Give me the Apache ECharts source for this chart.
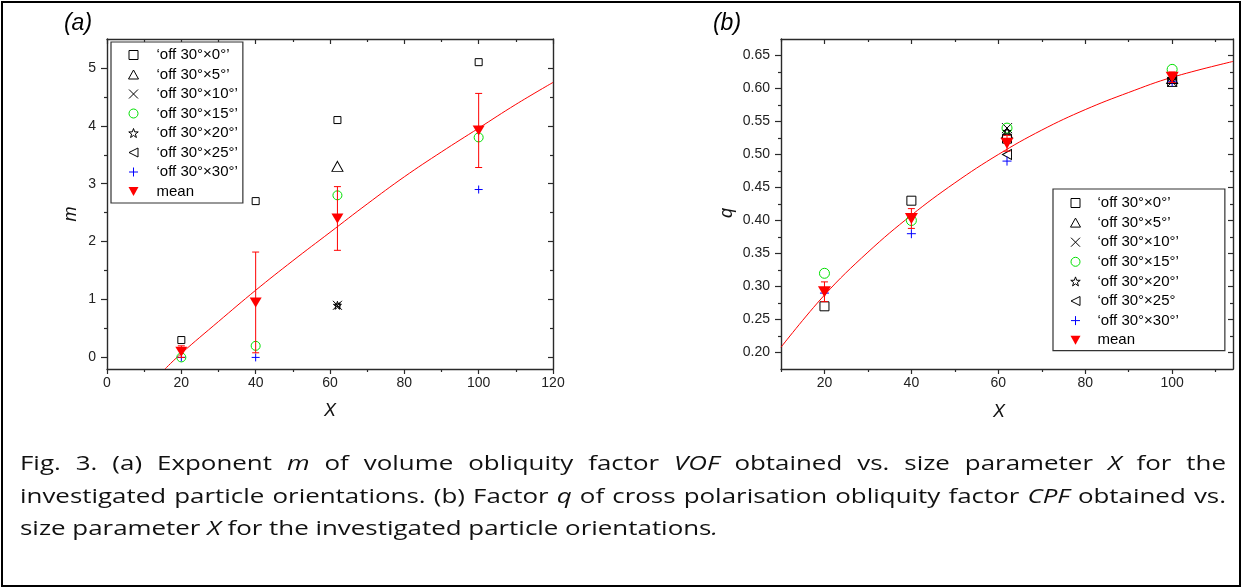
<!DOCTYPE html>
<html>
<head>
<meta charset="utf-8">
<script src="https://cdn.jsdelivr.net/npm/echarts@6/dist/echarts.min.js"></script>
<style>
  html, body { margin:0; padding:0; background:#fff; }
  #wrap { position:relative; width:1244px; height:588px; overflow:hidden; }
  #chart { position:absolute; left:0; top:0; width:1244px; height:588px; }
  #frame { position:absolute; left:1px; top:1px; width:1240px; height:586px; border:2px solid #000; box-sizing:border-box; pointer-events:none; }
  .ln { position:absolute; left:20px; white-space:nowrap; font-family:"Open Sans","Liberation Sans",sans-serif; font-size:20.5px; color:#111; line-height:30px; transform-origin:0 0; }
  .ln i { font-style:italic; }
</style>
</head>
<body>
<div id="wrap">
  <div id="chart"></div>
  <div id="frame"></div>
  <div class="ln" id="l1" style="top:447px">Fig. 3. (a) Exponent <i>m</i> of volume obliquity factor <i>VOF</i> obtained vs. size parameter <i>X</i> for the</div>
  <div class="ln" id="l2" style="top:480px">investigated particle orientations. (b) Factor <i>q</i> of cross polarisation obliquity factor <i>CPF</i> obtained vs.</div>
  <div class="ln" id="l3" style="top:512px">size parameter <i>X</i> for the investigated particle orientations<i>.</i></div>
</div>
<script>
// ---------------- DATA ----------------
const xPts = [20, 40, 62, 100];

// (a) exponent m  (null = marker not visible in the figure)
const mOff0  = [0.3, 2.7, 4.1, 5.1];
const mOff5  = [null, null, 3.3, null];
const mOff10 = [null, null, 0.9, null];
const mOff15 = [0.0, 0.2, 2.8, 3.8];
const mOff20 = [null, null, 0.9, null];
const mOff25 = [null, null, 0.9, null];
const mOff30 = [0.0, 0.0, null, 2.9];
const mMean  = [0.1, 0.95, 2.4, 3.92];
const mErr   = [0.1, 0.87, 0.55, 0.64];
const mFitX  = [15.6, 20, 30, 40, 50, 60, 70, 80, 90, 100, 110, 120];
const mFitY  = [-0.2, 0.07, 0.62, 1.16, 1.67, 2.16, 2.65, 3.12, 3.55, 3.96, 4.37, 4.75];

// (b) factor q
const qOff0  = [0.27, 0.43, 0.524, 0.61];
const qOff5  = [null, null, 0.532, 0.615];
const qOff10 = [null, null, 0.54, 0.61];
const qOff15 = [0.32, 0.40, 0.54, 0.629];
const qOff20 = [null, null, 0.535, 0.615];
const qOff25 = [null, null, 0.50, 0.615];
const qOff30 = [0.29, 0.38, 0.49, 0.61];
const qMean  = [0.292, 0.403, 0.517, 0.617];
const qErr   = [0.015, 0.015, 0.012, 0.008];
const qFitX  = [10, 20, 30, 40, 50, 60, 70, 80, 90, 100, 114];
const qFitY  = [0.208, 0.287, 0.352, 0.408, 0.457, 0.500, 0.537, 0.568, 0.594, 0.617, 0.641];

// tick labels
const aXTicks = [0, 20, 40, 60, 80, 100, 120];
const aXMinor = [10, 30, 50, 70, 90, 110];
const aYTicks = [0, 1, 2, 3, 4, 5];
const aYMinor = [0.5, 1.5, 2.5, 3.5, 4.5];
const bXTicks = [20, 40, 60, 80, 100];
const bXMinor = [10, 30, 50, 70, 90, 110];
const bYTicks = [0.20, 0.25, 0.30, 0.35, 0.40, 0.45, 0.50, 0.55, 0.60, 0.65];
const bYMinor = [0.225, 0.275, 0.325, 0.375, 0.425, 0.475, 0.525, 0.575, 0.625];

const namesA = ['‘off 30°×0°’', '‘off 30°×5°’', '‘off 30°×10°’', '‘off 30°×15°’', '‘off 30°×20°’', '‘off 30°×25°’', '‘off 30°×30°’', 'mean'];
const namesB = ['‘off 30°×0°’', '‘off 30°×5°’', '‘off 30°×10°’', '‘off 30°×15°’', '‘off 30°×20°’', '‘off 30°×25°', '‘off 30°×30°’', 'mean'];

// ---------------- STYLE ----------------
const FONT = '"Liberation Sans", Arial, sans-serif';
const AX = '#2a2a2a';
const P_SQR   = 'path://M0,0L10,0L10,10L0,10Z';
const P_CROSS = 'path://M0,0L10,10M10,0L0,10';
const P_PLUS  = 'path://M5,0L5,10M0,5L10,5';
const P_STAR  = 'path://M5,0L6.18,3.38L9.76,3.45L6.9,5.62L7.94,9.05L5,7L2.06,9.05L3.1,5.62L0.24,3.45L3.82,3.38Z';
const P_LTRI  = 'path://M10,0L0,5L10,10Z';
const P_DTRI  = 'path://M0,0L10,0L5,9Z';
const P_TRI   = 'path://M5,0L10,9L0,9Z';
const CLEAR = 'rgba(0,0,0,0)';

const markStyles = [
  {symbol:P_SQR,    color:CLEAR,  border:'#000'},
  {symbol:P_TRI,    color:CLEAR,  border:'#000'},
  {symbol:P_CROSS,  color:CLEAR,  border:'#000'},
  {symbol:'circle', color:CLEAR,  border:'#00e000'},
  {symbol:P_STAR,   color:CLEAR,  border:'#000'},
  {symbol:P_LTRI,   color:CLEAR,  border:'#000'},
  {symbol:P_PLUS,   color:CLEAR,  border:'#0000ff'},
  {symbol:P_DTRI,   color:'#ff0000', border:'#ff0000'}
];
const sizesA = [[7,7],[11,10],[9,9],[9,9],[8,8],[5,5],[8,8],[12,10]];
const sizesB = [[9,9],[11,10],[10,10],[10,10],[8,8],[9,10],[9,9],[13,11]];

function axisGroup(dim, gi, min, max, majors, minors, labelFmt) {
  const isX = dim === 'x';
  const posMain = isX ? 'bottom' : 'left';
  const posMirror = isX ? 'top' : 'right';
  const line = {show:true, onZero:false, lineStyle:{color:AX, width:1.4}};
  const noLine = {show:false, onZero:false};
  const base = {type:'value', gridIndex:gi, min:min, max:max, splitLine:{show:false}, silent:true};
  return [
    Object.assign({}, base, {position:posMain, axisLine:line,
      axisTick:{show:true, customValues:majors, length:isX?5:6, inside:false, lineStyle:{color:AX, width:1.2}},
      axisLabel:{show:true, customValues:majors, formatter:labelFmt, margin:isX?7:11, color:'#222', fontSize:14, fontFamily:FONT}}),
    Object.assign({}, base, {position:posMain, axisLine:noLine,
      axisTick:{show:true, customValues:minors, length:3, inside:false, lineStyle:{color:AX, width:1.2}},
      axisLabel:{show:false}}),
    Object.assign({}, base, {position:posMirror, axisLine:line,
      axisTick:{show:true, customValues:majors, length:5, inside:true, lineStyle:{color:AX, width:1.2}},
      axisLabel:{show:false}}),
    Object.assign({}, base, {position:posMirror, axisLine:noLine,
      axisTick:{show:true, customValues:minors, length:3, inside:true, lineStyle:{color:AX, width:1.2}},
      axisLabel:{show:false}})
  ];
}

function pairs(xs, ys) {
  const out = [];
  xs.forEach((x, i) => { if (ys[i] !== null && ys[i] !== undefined) out.push([x, ys[i]]); });
  return out;
}

function scatter(name, ys, k, sizes, xi, yi, z) {
  const ms = markStyles[k];
  return {
    type:'scatter', name:name, xAxisIndex:xi, yAxisIndex:yi,
    data:pairs(xPts, ys), symbol:ms.symbol, symbolSize:sizes[k],
    itemStyle:{color:ms.color, borderColor:ms.border, borderWidth: k === 7 ? 0 : 1, opacity:1},
    emphasis:{disabled:true}, z:z || 3, animation:false
  };
}

function errBars(means, errs, xi, yi) {
  return {
    type:'custom', xAxisIndex:xi, yAxisIndex:yi, silent:true, z:4, animation:false,
    data: xPts.map((x, i) => [x, means[i] - errs[i], means[i] + errs[i]]),
    encode:{x:0, y:[1, 2]},
    renderItem: function (params, api) {
      const x = api.value(0);
      const lo = api.coord([x, api.value(1)]);
      const hi = api.coord([x, api.value(2)]);
      const w = 3.5;
      const st = {stroke:'#ff0000', lineWidth:1};
      return {type:'group', children:[
        {type:'line', shape:{x1:lo[0], y1:lo[1], x2:hi[0], y2:hi[1]}, style:st},
        {type:'line', shape:{x1:hi[0]-w, y1:hi[1], x2:hi[0]+w, y2:hi[1]}, style:st},
        {type:'line', shape:{x1:lo[0]-w, y1:lo[1], x2:lo[0]+w, y2:lo[1]}, style:st}
      ]};
    }
  };
}

function fitLine(xs, ys, xi, yi) {
  return {type:'line', xAxisIndex:xi, yAxisIndex:yi, data:pairs(xs, ys), showSymbol:false, symbol:'none',
    smooth:0.4, clip:true, lineStyle:{color:'#ff0000', width:1}, z:2, silent:true, animation:false};
}

function legendData(names) {
  return names.map((n, k) => ({
    name:n, icon:markStyles[k].symbol,
    itemStyle:{color:markStyles[k].color, borderColor:markStyles[k].border, borderWidth: k === 7 ? 0 : 1}
  }));
}

const seriesA = [mOff0, mOff5, mOff10, mOff15, mOff20, mOff25, mOff30];
const seriesB = [qOff0, qOff5, qOff10, qOff15, qOff20, qOff25, qOff30];

const series = [];
series.push(fitLine(mFitX, mFitY, 0, 0));
seriesA.forEach((ys, k) => series.push(scatter(namesA[k], ys, k, sizesA, 0, 0)));
series.push(errBars(mMean, mErr, 0, 0));
series.push(scatter(namesA[7], mMean, 7, sizesA, 0, 0, 5));

series.push(fitLine(qFitX, qFitY, 4, 4));
seriesB.forEach((ys, k) => series.push(scatter(namesB[k], ys, k, sizesB, 4, 4)));
series.push(errBars(qMean, qErr, 4, 4));
series.push(scatter(namesB[7], qMean, 7, sizesB, 4, 4, 5));

const intFmt = v => String(Math.round(v));
const q2Fmt = v => v.toFixed(2);

const option = {
  animation:false,
  backgroundColor:'#fff',
  textStyle:{fontFamily:FONT},
  grid:[
    {left:107, top:39, width:446, height:330, outerBoundsMode:'none', containLabel:false},
    {left:781, top:39, width:452, height:330, outerBoundsMode:'none', containLabel:false}
  ],
  xAxis: [].concat(
    axisGroup('x', 0, 0, 120, aXTicks, aXMinor, intFmt),
    axisGroup('x', 1, 10, 114, bXTicks, bXMinor, intFmt)
  ),
  yAxis: [].concat(
    axisGroup('y', 0, -0.2, 5.5, aYTicks, aYMinor, intFmt),
    axisGroup('y', 1, 0.175, 0.675, bYTicks, bYMinor, q2Fmt)
  ),
  legend:[
    {orient:'vertical', left:111, top:42, padding:[5.5, 5, 4, 17], itemWidth:36, itemHeight:9, itemGap:4.5,
     selectedMode:false, borderColor:'#333', borderWidth:1.2, backgroundColor:'#fff',
     textStyle:{fontFamily:FONT, fontSize:15, lineHeight:15, color:'#000'}, data:legendData(namesA)},
    {orient:'vertical', left:1053, top:189, padding:[6.5, 46, 3, 17], itemWidth:34, itemHeight:9, itemGap:4.6,
     selectedMode:false, borderColor:'#333', borderWidth:1.2, backgroundColor:'#fff',
     textStyle:{fontFamily:FONT, fontSize:15, lineHeight:15, color:'#000'}, data:legendData(namesB)}
  ],
  graphic:[
    {type:'text', x:78, y:24, style:{text:'(a)', font:'italic 23px ' + FONT, fill:'#000', align:'center', verticalAlign:'middle'}},
    {type:'text', x:727, y:24, style:{text:'(b)', font:'italic 23px ' + FONT, fill:'#000', align:'center', verticalAlign:'middle'}},
    {type:'text', x:71, y:214, rotation:Math.PI/2, style:{text:'m', font:'italic 18px ' + FONT, fill:'#111', align:'center', verticalAlign:'middle'}},
    {type:'text', x:330, y:411, style:{text:'X', font:'italic 18px ' + FONT, fill:'#111', align:'center', verticalAlign:'middle'}},
    {type:'text', x:727, y:213, rotation:Math.PI/2, style:{text:'q', font:'italic 18px ' + FONT, fill:'#111', align:'center', verticalAlign:'middle'}},
    {type:'text', x:999, y:412, style:{text:'X', font:'italic 18px ' + FONT, fill:'#111', align:'center', verticalAlign:'middle'}}
  ],
  series:series
};

const chart = echarts.init(document.getElementById('chart'), null, {renderer:'canvas'});
chart.setOption(option);

// ---------------- CAPTION LAYOUT ----------------
function layoutCaption() {
  const l1 = document.getElementById('l1'), l2 = document.getElementById('l2'), l3 = document.getElementById('l3');
  [l1, l2, l3].forEach(el => { el.style.transform = 'none'; el.style.wordSpacing = '0px'; });
  const w3 = l3.getBoundingClientRect().width;
  const k = 698 / w3;
  const target = 1206 / k;
  [l1, l2].forEach(el => {
    const w = el.getBoundingClientRect().width;
    const n = el.textContent.split(' ').length - 1;
    el.style.wordSpacing = ((target - w) / n) + 'px';
  });
  [l1, l2, l3].forEach(el => { el.style.transform = 'scaleX(' + k + ')'; });
}
layoutCaption();
if (document.fonts && document.fonts.ready) document.fonts.ready.then(layoutCaption);
</script>
</body>
</html>
